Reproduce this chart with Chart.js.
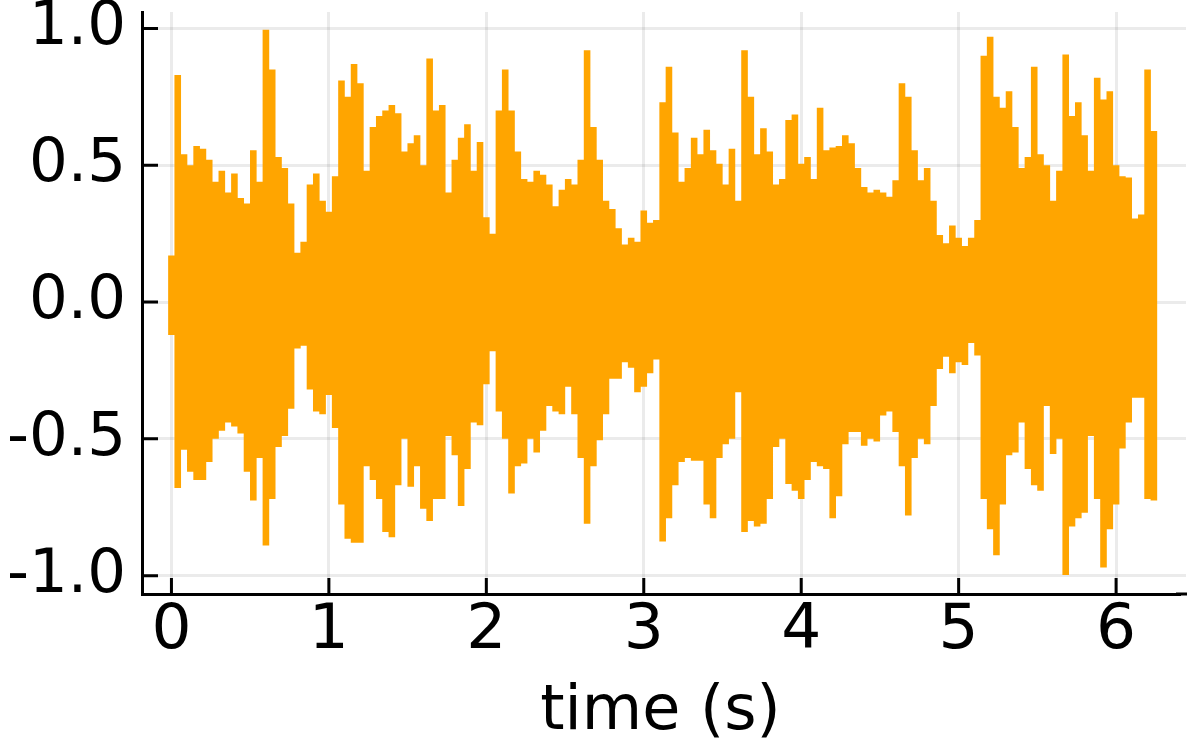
<!DOCTYPE html>
<html>
<head>
<meta charset="utf-8">
<title>time (s)</title>
<style>
  html, body { margin: 0; padding: 0; background: #ffffff; }
  canvas { display: block; filter: blur(0.6px); }
</style>
<script src="https://cdn.jsdelivr.net/npm/chart.js@4"></script>
</head>
<body>
<canvas id="waveform" width="1196" height="748"></canvas>
<script>
// values, one column of the waveform per time
const timeSeconds = [
  0.00,0.04,0.08,0.12,0.16,0.20,0.24,0.28,0.32,0.36,0.40,0.44,0.48,0.52,0.56,0.60,0.64,0.68,0.72,0.76,
  0.80,0.84,0.88,0.92,0.96,1.00,1.04,1.08,1.12,1.16,1.20,1.24,1.28,1.32,1.36,1.40,1.44,1.48,1.52,1.56,
  1.60,1.64,1.68,1.72,1.76,1.80,1.84,1.88,1.92,1.96,2.00,2.04,2.08,2.12,2.16,2.20,2.24,2.28,2.32,2.36,
  2.40,2.44,2.48,2.52,2.56,2.60,2.64,2.68,2.72,2.76,2.80,2.84,2.88,2.92,2.96,3.00,3.04,3.08,3.12,3.16,
  3.20,3.24,3.28,3.32,3.36,3.40,3.44,3.48,3.52,3.56,3.60,3.64,3.68,3.72,3.76,3.80,3.84,3.88,3.92,3.96,
  4.00,4.04,4.08,4.12,4.16,4.20,4.24,4.28,4.32,4.36,4.40,4.44,4.48,4.52,4.56,4.60,4.64,4.68,4.72,4.76,
  4.80,4.84,4.88,4.92,4.96,5.00,5.04,5.08,5.12,5.16,5.20,5.24,5.28,5.32,5.36,5.40,5.44,5.48,5.52,5.56,
  5.60,5.64,5.68,5.72,5.76,5.80,5.84,5.88,5.92,5.96,6.00,6.04,6.08,6.12,6.16,6.20,6.24
];
const upperValues = [
  .17,.83,.54,.50,.57,.56,.52,.44,.48,.40,.47,.38,.36,.555,.44,.995,.85,.53,.49,.36,
  .18,.22,.43,.47,.37,.33,.46,.81,.75,.87,.80,.48,.64,.68,.70,.72,.69,.55,.58,.61,
  .50,.89,.70,.72,.40,.52,.60,.65,.48,.585,.31,.25,.70,.85,.70,.55,.45,.44,.48,.465,
  .43,.35,.41,.45,.43,.52,.92,.64,.52,.37,.34,.27,.21,.235,.22,.335,.29,.30,.73,.86,
  .62,.44,.49,.60,.54,.63,.555,.505,.43,.56,.37,.92,.75,.54,.635,.55,.43,.45,.665,.685,
  .505,.53,.45,.71,.555,.565,.57,.61,.58,.49,.42,.40,.41,.40,.385,.445,.80,.75,.555,.445,
  .49,.37,.245,.215,.28,.235,.205,.235,.30,.90,.97,.75,.71,.77,.64,.49,.53,.86,.54,.50,
  .37,.48,.905,.68,.73,.61,.48,.82,.74,.77,.50,.46,.455,.305,.32,.85,.625
];
const lowerValues = [
  -.12,-.68,-.54,-.62,-.65,-.65,-.585,-.50,-.47,-.44,-.455,-.48,-.62,-.725,-.57,-.89,-.72,-.53,-.49,-.39,
  -.17,-.16,-.32,-.40,-.41,-.34,-.46,-.74,-.865,-.88,-.88,-.60,-.65,-.72,-.84,-.86,-.67,-.50,-.675,-.60,
  -.755,-.80,-.72,-.72,-.49,-.56,-.745,-.61,-.44,-.45,-.30,-.18,-.40,-.50,-.70,-.60,-.59,-.50,-.55,-.47,
  -.38,-.40,-.41,-.31,-.41,-.57,-.81,-.60,-.505,-.41,-.28,-.28,-.22,-.24,-.33,-.31,-.26,-.21,-.875,-.79,
  -.67,-.585,-.57,-.58,-.58,-.74,-.79,-.57,-.52,-.50,-.33,-.84,-.80,-.82,-.81,-.72,-.53,-.50,-.665,-.69,
  -.72,-.65,-.585,-.60,-.61,-.79,-.71,-.52,-.475,-.475,-.525,-.50,-.51,-.415,-.40,-.475,-.60,-.78,-.57,-.50,
  -.52,-.38,-.245,-.20,-.26,-.22,-.23,-.15,-.195,-.72,-.83,-.925,-.74,-.56,-.55,-.44,-.61,-.67,-.69,-.38,
  -.555,-.50,-.998,-.82,-.79,-.77,-.49,-.72,-.97,-.83,-.74,-.535,-.44,-.35,-.35,-.72,-.725
];
const xTickValues = [0, 1, 2, 3, 4, 5, 6];
const yTickValues = [-1.0, -0.5, 0.0, 0.5, 1.0];

// each time gets its own vertical stroke, the gaps keep the tops square
const signal = [];
timeSeconds.forEach(function(t, i) {
    signal.push({ x: t, y: upperValues[i] }, { x: t, y: lowerValues[i] }, { x: t, y: null });
});

// the ticks point inwards in this plot
const inwardTicks = {
    id: 'inwardTicks',
    afterLayout(chart) {
        // axis title sits a little left of the plot centre
        chart.scales.x.right -= 7;
    },
    afterDatasetsDraw(chart) {
        const c = chart.ctx;
        const area = chart.chartArea;
        c.save();
        c.strokeStyle = '#000000';
        c.lineWidth = 3;
        c.beginPath();
        xTickValues.forEach(function(v) {
            const px = chart.scales.x.getPixelForValue(v);
            c.moveTo(px, area.bottom);
            c.lineTo(px, area.bottom - 16);
        });
        yTickValues.forEach(function(v) {
            const py = chart.scales.y.getPixelForValue(v);
            c.moveTo(area.left, py);
            c.lineTo(area.left + 16, py);
        });
        // bottom spine runs on to the plot edge
        c.moveTo(area.right - 10, area.bottom);
        c.lineTo(area.right + 1, area.bottom);
        c.stroke();
        c.restore();
    }
};

const xTickFont = { family: 'DejaVu Sans', size: 63 };
const yTickFont = { family: 'DejaVu Sans', size: 61 };
const titleFont = { family: 'DejaVu Sans', size: 62 };
const gridColor = 'rgba(0, 0, 0, 0.08)';

new Chart(document.getElementById('waveform').getContext('2d'), {
    type: 'line',
    data: {
        datasets: [{
            data: signal,
            borderColor: '#ffa500',
            borderWidth: 6.6,
            borderCapStyle: 'butt',
            pointRadius: 0,
            tension: 0,
            spanGaps: false,
            fill: false
        }]
    },
    plugins: [inwardTicks],
    options: {
        responsive: false,
        animation: false,
        layout: { padding: { top: 12, right: 10, left: 0, bottom: 0 } },
        plugins: { legend: { display: false }, tooltip: { enabled: false } },
        scales: {
            x: {
                type: 'linear',
                min: -0.187,
                max: 6.444,
                afterBuildTicks(scale) { scale.ticks = xTickValues.map(v => ({ value: v })); },
                afterFit(scale) {
                    scale.height = 154;
                    scale.paddingLeft = 0;
                    scale.paddingRight = 0;
                },
                grid: { color: gridColor, lineWidth: 3, drawTicks: false },
                border: { color: '#000000', width: 3 },
                ticks: {
                    font: xTickFont,
                    color: '#000000',
                    padding: 0,
                    maxRotation: 0,
                    callback: v => String(v)
                },
                title: {
                    display: true,
                    text: 'time (s)',
                    font: titleFont,
                    color: '#000000',
                    padding: { top: 0, bottom: -2 }
                }
            },
            y: {
                type: 'linear',
                min: -1.067,
                max: 1.06,
                afterBuildTicks(scale) { scale.ticks = yTickValues.map(v => ({ value: v })); },
                afterFit(scale) {
                    scale.width = 142;
                    scale.paddingTop = 0;
                    scale.paddingBottom = 0;
                },
                grid: { color: gridColor, lineWidth: 3, drawTicks: false },
                border: { color: '#000000', width: 3 },
                ticks: {
                    font: yTickFont,
                    color: '#000000',
                    padding: 16,
                    callback: v => v.toFixed(1)
                }
            }
        }
    }
});
</script>
</body>
</html>
